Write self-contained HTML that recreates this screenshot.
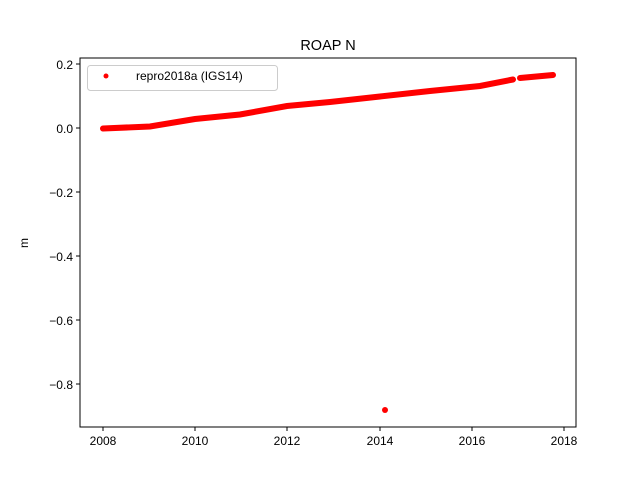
<!DOCTYPE html>
<html><head><meta charset="utf-8"><style>
body{margin:0;background:#fff;}
svg{display:block;font-family:"Liberation Sans","DejaVu Sans",sans-serif;}
</style></head><body>
<svg width="640" height="480" viewBox="0 0 640 480">
<rect width="640" height="480" fill="#fff"/>
<g stroke="#ff0000" stroke-linecap="round" fill="none">
<polyline points="103,128.5 150,126.5 195,119 240,114.5 287,106 330,102 380,96.5 430,91 480,86 513,79.5" stroke-width="6"/>
<polyline points="520,78 553,75" stroke-width="6"/>
</g>
<g fill="#ff0000">
<circle cx="385" cy="410" r="3"/>
</g>
<rect x="80" y="58" width="496" height="369" fill="none" stroke="#000" stroke-width="1"/>
<g stroke="#000" stroke-width="1">
<line x1="80" y1="64" x2="76" y2="64"/><line x1="80" y1="128" x2="76" y2="128"/>
<line x1="80" y1="192" x2="76" y2="192"/><line x1="80" y1="256" x2="76" y2="256"/>
<line x1="80" y1="320" x2="76" y2="320"/><line x1="80" y1="384" x2="76" y2="384"/>
<line x1="103" y1="427" x2="103" y2="431"/><line x1="195" y1="427" x2="195" y2="431"/>
<line x1="287" y1="427" x2="287" y2="431"/><line x1="380" y1="427" x2="380" y2="431"/>
<line x1="472" y1="427" x2="472" y2="431"/><line x1="564" y1="427" x2="564" y2="431"/>
</g>
<g font-size="12" fill="#000" text-anchor="end">
<text x="73" y="69">0.2</text><text x="73" y="133">0.0</text>
<text x="73" y="197">−0.2</text><text x="73" y="261">−0.4</text>
<text x="73" y="325">−0.6</text><text x="73" y="389">−0.8</text>
</g>
<g font-size="12" fill="#000" text-anchor="middle">
<text x="103" y="445">2008</text><text x="195" y="445">2010</text>
<text x="287" y="445">2012</text><text x="380" y="445">2014</text>
<text x="472" y="445">2016</text><text x="564" y="445">2018</text>
</g>
<text x="28" y="243" font-size="12" text-anchor="middle" transform="rotate(-90 28 243)">m</text>
<text x="328" y="50" font-size="14.5" text-anchor="middle">ROAP N</text>
<rect x="87.5" y="65.5" width="190" height="25" rx="3" fill="#fff" stroke="#ccc"/>
<circle cx="106" cy="76" r="2.5" fill="#ff0000"/>
<text x="136" y="80" font-size="12">repro2018a (IGS14)</text>
</svg>
</body></html>
